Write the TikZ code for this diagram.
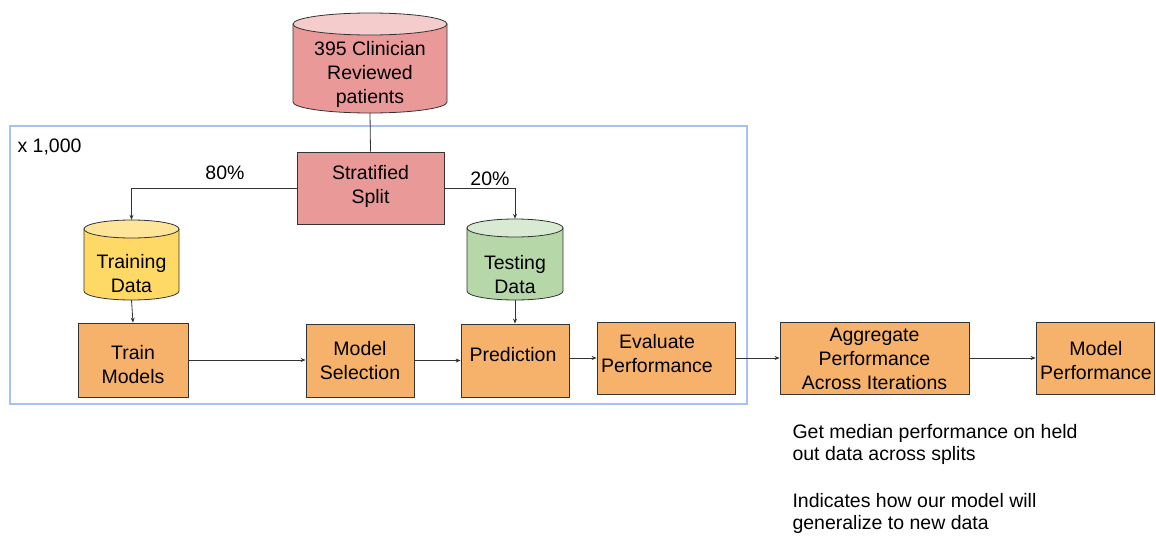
\documentclass[tikz,border=0pt]{standalone}
\usepackage{fontspec}
\setmainfont{Liberation Sans}
\usetikzlibrary{arrows.meta}
\definecolor{redbody}{HTML}{EA9999}
\definecolor{redtop}{HTML}{F4CCCC}
\definecolor{yelbody}{HTML}{FFD966}
\definecolor{yeltop}{HTML}{FFE599}
\definecolor{grnbody}{HTML}{B6D7A8}
\definecolor{grntop}{HTML}{D9EAD3}
\definecolor{boxorange}{HTML}{F6B26B}
\definecolor{framblue}{HTML}{A4C2F4}
\definecolor{edge}{HTML}{333333}
% cylinder: #1 left x, #2 right x, #3 top ellipse centre y, #4 bottom ellipse centre y,
% #5 y radius, #6 body colour, #7 lid colour
\newcommand{\drumshape}[7]{%
  \pgfmathsetmacro{\rxx}{(#2-#1)/2}%
  \pgfmathsetmacro{\cxx}{(#1+#2)/2}%
  \draw[edge, line width=0.8pt, fill=#6] (#1,#3) -- (#1,#4)
     arc[start angle=180, end angle=360, x radius=\rxx pt, y radius=#5pt] -- (#2,#3) -- cycle;
  \draw[edge, line width=0.8pt, fill=#7] (\cxx,#3) ellipse[x radius=\rxx pt, y radius=#5pt];
}
\begin{document}
\begin{tikzpicture}[x=1pt, y=-1pt,
  txt/.style={font=\fontsize{19.5}{24}\selectfont, align=center, text=black, yshift=-2pt},
  stepbox/.style={draw=edge, line width=0.8pt, fill=boxorange, inner sep=0pt},
  area/.style={inner sep=0pt},
  link/.style={draw=edge, line width=0.8pt},
  flow/.style={link, -{Stealth[length=5pt, width=4pt]}}]
\useasboundingbox (0,0) rectangle (1156,536);

% repeated-split frame
\draw[framblue, line width=1.2pt] (10,126) rectangle (747,404);
\node[txt, anchor=west] (reps) at (14,145) {x 1,000};

% data stores
\drumshape{293}{447}{24}{102}{11}{redbody}{redtop}
\node[area, minimum width=154pt, minimum height=100pt] (src) at (370,63) {};
\node[txt] (srct) at (370,72) {395 Clinician\\Reviewed\\patients};

\drumshape{84}{179}{229}{291}{9}{yelbody}{yeltop}
\node[area, minimum width=95pt, minimum height=80pt] (trn) at (131.5,260) {};
\node[txt] (trnt) at (131.5,272) {Training\\Data};

\drumshape{467}{563}{228}{291}{9}{grnbody}{grntop}
\node[area, minimum width=96pt, minimum height=81pt] (tst) at (515,259.5) {};
\node[txt] (tstt) at (515,273) {Testing\\Data};

% process steps
\node[stepbox, fill=redbody, minimum width=147pt, minimum height=72pt] (split) at (370.5,188) {};
\node[txt] (splitt) at (370.5,184) {Stratified\\Split};

\node[stepbox, minimum width=110pt, minimum height=74pt] (train) at (133,360) {};
\node[txt] (traint) at (133,363) {Train\\Models};

\node[stepbox, minimum width=108pt, minimum height=73pt] (modsel) at (360,360.5) {};
\node[txt] (modselt) at (360,358.5) {Model\\Selection};

\node[stepbox, minimum width=108pt, minimum height=73pt] (pred) at (515,360.5) {};
\node[txt] (predt) at (513,353) {Prediction};

\node[stepbox, minimum width=138pt, minimum height=72pt] (eval) at (666,358) {};
\node[txt] (evalt) at (657,351.5) {Evaluate\\Performance};

\node[stepbox, minimum width=189pt, minimum height=72pt] (agg) at (874.5,358) {};
\node[txt] (aggt) at (874.5,357) {Aggregate\\Performance\\Across Iterations};

\node[stepbox, minimum width=118pt, minimum height=72pt] (final) at (1095,358) {};
\node[txt] (finalt) at (1096,358.5) {Model\\Performance};

% connectors
\draw[link] (src.south) -- (split.north);
\draw[flow] (split.west) -| (trn.north);
\draw[flow] (split.east) -| (tst.north);
\node[txt] (p80) at (225,171) {80\%};
\node[txt] (p20) at (490,177) {20\%};
\draw[flow] (trn.south) -- (train.north);
\draw[flow] (tst.south) -- (pred.north);
\draw[flow] (train.east) -- (modsel.west |- train.east);
\draw[flow] (modsel.east) -- (pred.west);
\draw[flow] (pred.east |- eval.west) -- (eval.west);
\draw[flow] (eval.east) -- (agg.west);
\draw[flow] (agg.east) -- (final.west);

% notes
\node[txt, anchor=west, align=left] (note1) at (789,442) {Get median performance on held\\[-2pt]out data across splits};
\node[txt, anchor=west, align=left] (note2) at (789,511) {Indicates how our model will\\[-2pt]generalize to new data};
\end{tikzpicture}
\end{document}
